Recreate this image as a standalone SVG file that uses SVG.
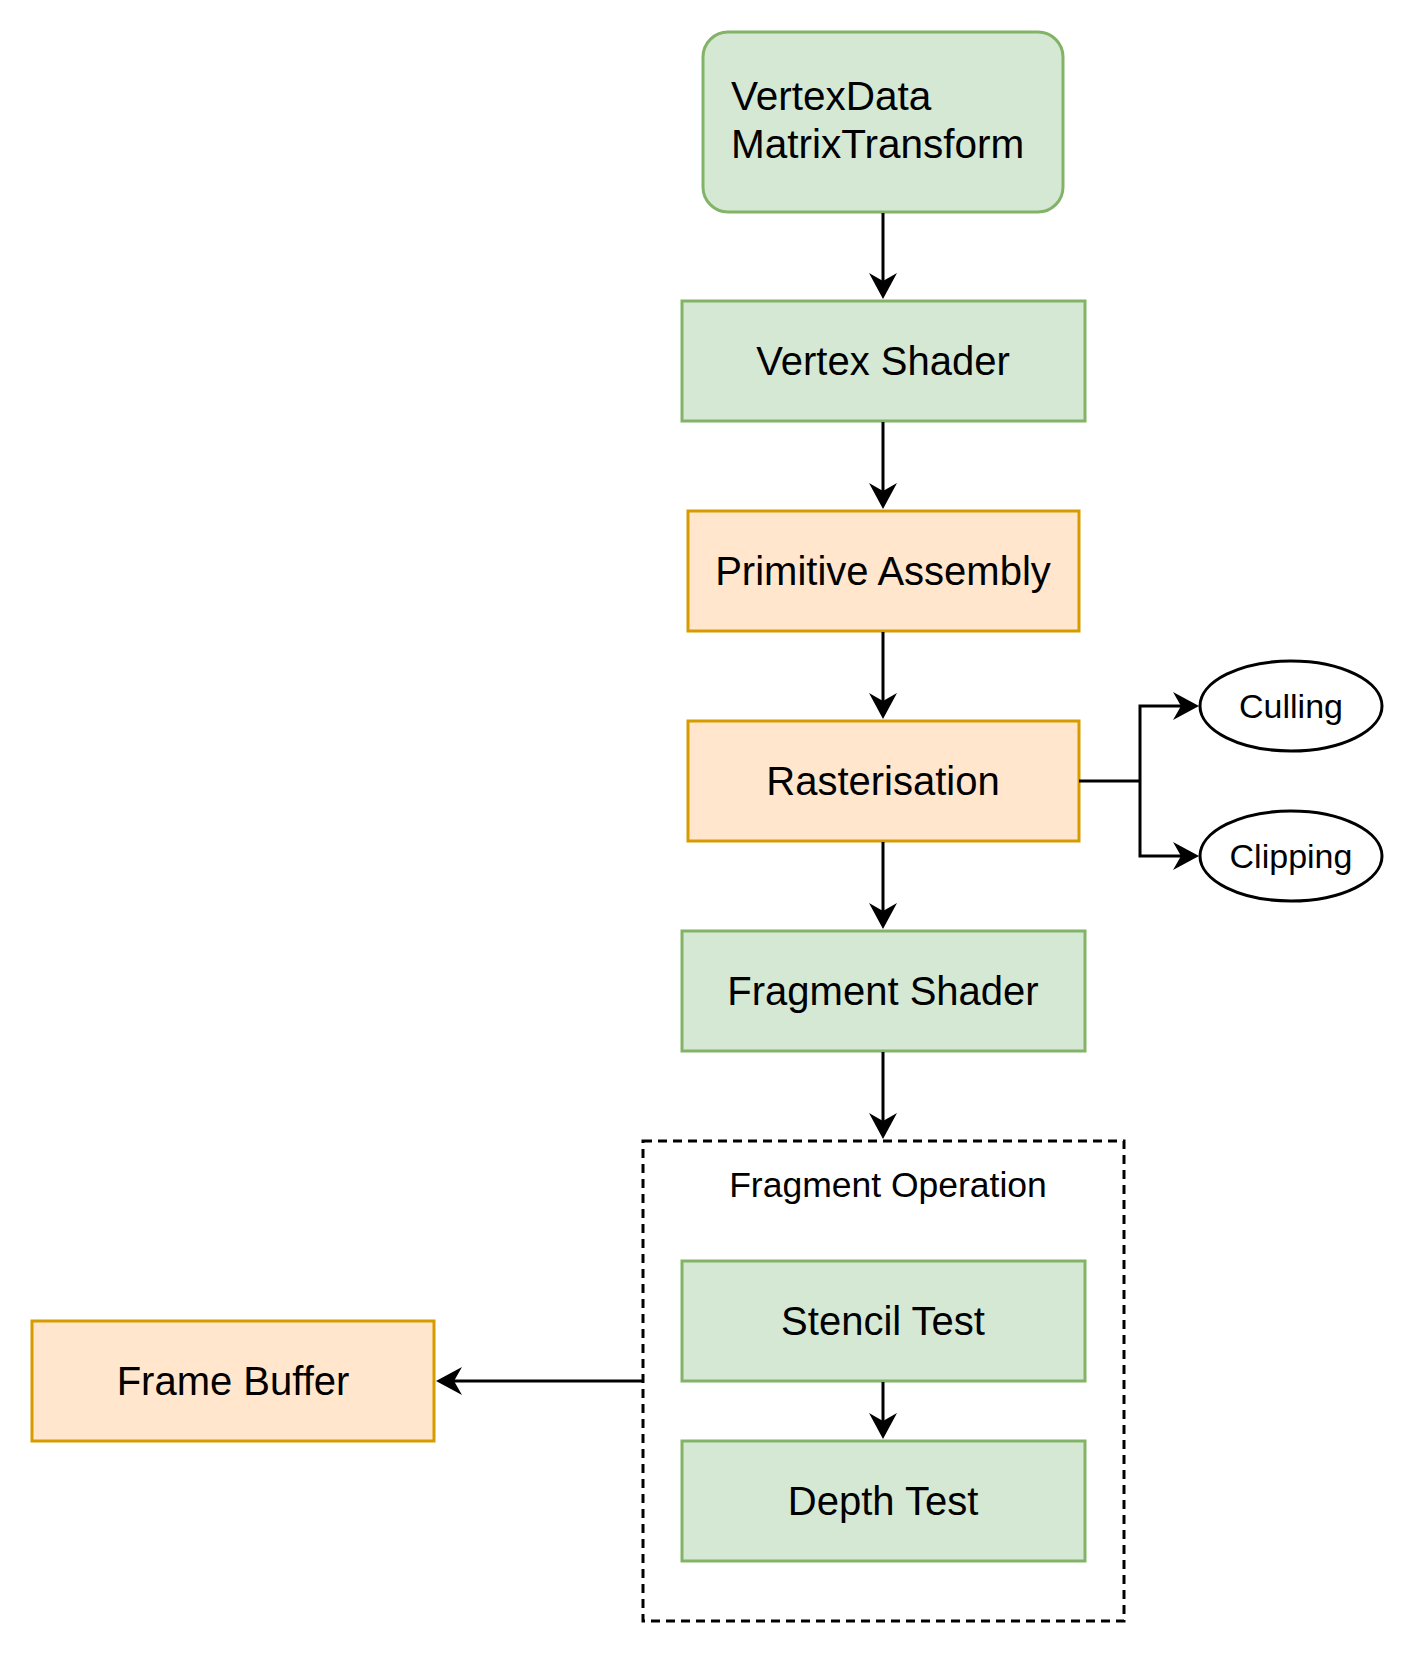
<svg xmlns="http://www.w3.org/2000/svg" width="1413" height="1653" viewBox="0 0 1413 1653">
<style>
.green{fill:#d5e8d4;stroke:#82b366;stroke-width:3}
.orange{fill:#ffe6cc;stroke:#d79b00;stroke-width:3}
.ell{fill:#ffffff;stroke:#000000;stroke-width:3}
.group{fill:none;stroke:#000000;stroke-width:3;stroke-dasharray:9 6}
.lbl{font-family:"Liberation Sans",Arial,sans-serif;font-size:40px;fill:#000000;text-anchor:middle}
.lbl-l{font-family:"Liberation Sans",Arial,sans-serif;font-size:40.5px;fill:#000000}
.sm{font-family:"Liberation Sans",Arial,sans-serif;font-size:34px;fill:#000000;text-anchor:middle}
.edge{fill:none;stroke:#000000;stroke-width:3;marker-end:url(#arr)}
.plain{fill:none;stroke:#000000;stroke-width:3}
</style>
<defs>
<marker id="arr" markerUnits="userSpaceOnUse" viewBox="0 0 28 30" refX="17" refY="15" markerWidth="28" markerHeight="30" orient="auto">
<path d="M1,1 L27,15 L1,29 L9,15 Z" fill="#000000"/>
</marker>
</defs>
<rect width="1413" height="1653" fill="#ffffff"/>

<g id="group-fragment-operation">
<rect class="group" x="643" y="1141" width="481" height="480"/>
<text class="sm" x="888" y="1197" style="font-size:35.5px">Fragment Operation</text>
</g>

<g id="node-vertexdata">
<rect class="green" x="703" y="32" width="360" height="180" rx="25" ry="25"/>
<text class="lbl-l" x="731" y="110">VertexData</text>
<text class="lbl-l" x="731" y="158">MatrixTransform</text>
</g>

<g id="node-vertex-shader">
<rect class="green" x="682" y="301" width="403" height="120"/>
<text class="lbl" x="883" y="375">Vertex Shader</text>
</g>

<g id="node-primitive-assembly">
<rect class="orange" x="688" y="511" width="391" height="120"/>
<text class="lbl" x="883" y="585">Primitive Assembly</text>
</g>

<g id="node-rasterisation">
<rect class="orange" x="688" y="721" width="391" height="120"/>
<text class="lbl" x="883" y="795">Rasterisation</text>
</g>

<g id="node-culling">
<ellipse class="ell" cx="1291" cy="706" rx="91" ry="45"/>
<text class="sm" x="1291" y="718">Culling</text>
</g>

<g id="node-clipping">
<ellipse class="ell" cx="1291" cy="856" rx="91" ry="45"/>
<text class="sm" x="1291" y="868">Clipping</text>
</g>

<g id="node-fragment-shader">
<rect class="green" x="682" y="931" width="403" height="120"/>
<text class="lbl" x="883" y="1005">Fragment Shader</text>
</g>

<g id="node-stencil-test">
<rect class="green" x="682" y="1261" width="403" height="120"/>
<text class="lbl" x="883" y="1335">Stencil Test</text>
</g>

<g id="node-depth-test">
<rect class="green" x="682" y="1441" width="403" height="120"/>
<text class="lbl" x="883" y="1515">Depth Test</text>
</g>

<g id="node-frame-buffer">
<rect class="orange" x="32" y="1321" width="402" height="120"/>
<text class="lbl" x="233" y="1395">Frame Buffer</text>
</g>

<g id="connectors">
<path class="edge" d="M883,213 V289"/>
<path class="edge" d="M883,422 V499"/>
<path class="edge" d="M883,632 V709"/>
<path class="edge" d="M883,842 V919"/>
<path class="edge" d="M883,1052 V1129"/>
<path class="plain" d="M1079,781 H1140"/>
<path class="edge" d="M1140,781 V706 H1189"/>
<path class="edge" d="M1140,781 V856 H1189"/>
<path class="edge" d="M883,1382 V1429"/>
<path class="edge" d="M643,1381 H446"/>
</g>
</svg>
